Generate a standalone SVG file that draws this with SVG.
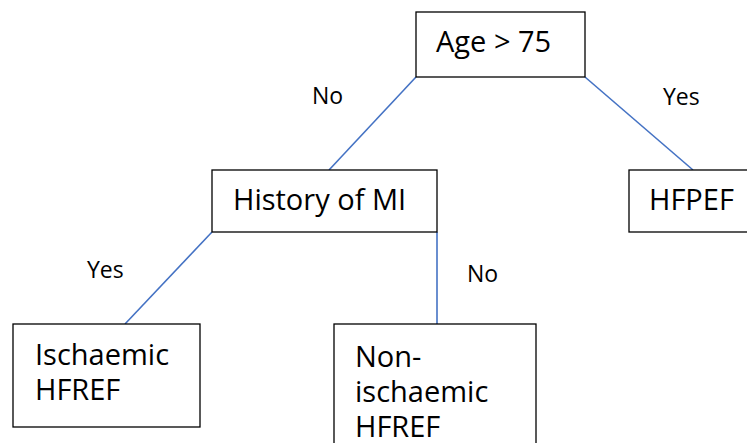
<svg xmlns="http://www.w3.org/2000/svg" width="747" height="443" viewBox="0 0 747 443">
<style>
.box{fill:#fff;stroke:#000;stroke-width:1.3}
.t{font-family:"Open Sans","Noto Sans",sans-serif;font-size:29px;fill:#000}
.l{font-family:"Open Sans","Noto Sans",sans-serif;font-size:23px;fill:#000}
.c{stroke:#4472C4;stroke-width:1.6;fill:none}
</style>
<rect width="747" height="443" fill="#fff"/>
<g id="connectors">
<line class="c" x1="416" y1="77" x2="329" y2="170"/>
<line class="c" x1="585" y1="77" x2="693" y2="170"/>
<line class="c" x1="212" y1="232" x2="125" y2="324"/>
<line class="c" x1="437" y1="232" x2="437" y2="324"/>
<text class="l" x="312" y="104">No</text>
<text class="l" x="663" y="105">Yes</text>
<text class="l" x="87" y="278">Yes</text>
<text class="l" x="467" y="282">No</text>
</g>
<g id="age">
<rect class="box" x="416" y="12" width="169" height="65"/>
<text class="t" x="436" y="52">Age &gt; 75</text>
</g>
<g id="history">
<rect class="box" x="212" y="170" width="225" height="62"/>
<text class="t" x="233" y="210">History of MI</text>
</g>
<g id="hfpef">
<rect class="box" x="629" y="170" width="130" height="62"/>
<text class="t" x="649" y="210">HFPEF</text>
</g>
<g id="ischaemic">
<rect class="box" x="13" y="324" width="187" height="103"/>
<text class="t"><tspan x="35" y="365">Ischaemic</tspan><tspan x="35" y="400">HFREF</tspan></text>
</g>
<g id="nonischaemic">
<rect class="box" x="334" y="324" width="202" height="130"/>
<text class="t"><tspan x="355" y="367">Non-</tspan><tspan x="355" y="402">ischaemic</tspan><tspan x="355" y="437">HFREF</tspan></text>
</g>
</svg>
